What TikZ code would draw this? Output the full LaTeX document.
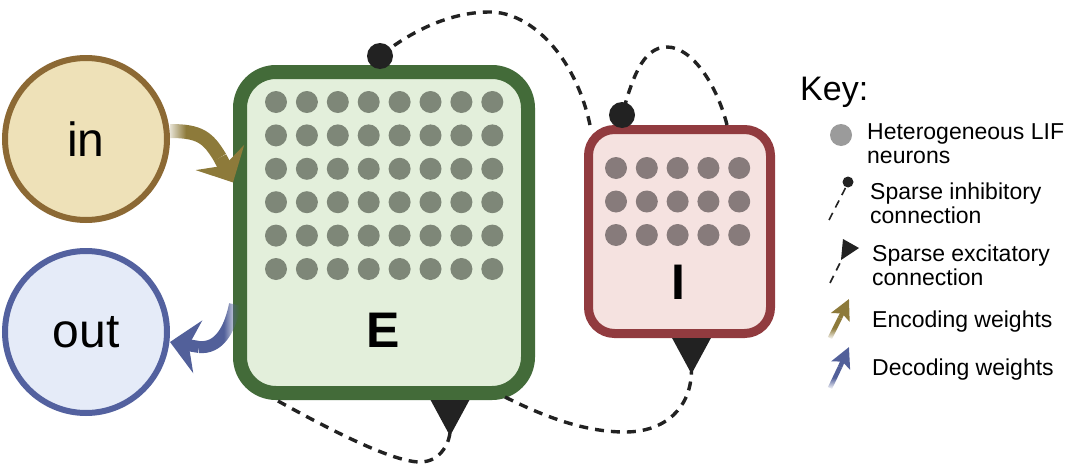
\documentclass[tikz,border=0pt]{standalone}
\usepackage{fontspec}
\setmainfont{Liberation Sans}
\usetikzlibrary{arrows.meta,fadings,positioning}
\definecolor{infill}{HTML}{EEE1B8}
\definecolor{inedge}{HTML}{8C6934}
\definecolor{outfill}{HTML}{E5EBF8}
\definecolor{outedge}{HTML}{53619F}
\definecolor{Efill}{HTML}{E3EFDB}
\definecolor{Eedge}{HTML}{436B39}
\definecolor{Edot}{HTML}{7E8778}
\definecolor{Ifill}{HTML}{F5E2E0}
\definecolor{Iedge}{HTML}{913B3F}
\definecolor{Idot}{HTML}{877B7B}
\definecolor{keydot}{HTML}{9B9B9B}
\definecolor{dark}{HTML}{222222}
\definecolor{enccol}{HTML}{8D7A3A}
\definecolor{deccol}{HTML}{52609A}
% quick fades: only the first part of a shaft is see-through
\pgfdeclarehorizontalshading{shR}{100bp}{color(0bp)=(pgftransparent!100); color(27bp)=(pgftransparent!100); color(43bp)=(pgftransparent!0); color(100bp)=(pgftransparent!0)}
\pgfdeclarehorizontalshading{shL}{100bp}{color(0bp)=(pgftransparent!0); color(57bp)=(pgftransparent!0); color(73bp)=(pgftransparent!100); color(100bp)=(pgftransparent!100)}
\pgfdeclareverticalshading{shU}{100bp}{color(0bp)=(pgftransparent!100); color(27bp)=(pgftransparent!100); color(50bp)=(pgftransparent!0); color(100bp)=(pgftransparent!0)}
\pgfdeclarefading{fadeR}{\pgfuseshading{shR}}
\pgfdeclarefading{fadeL}{\pgfuseshading{shL}}
\pgfdeclarefading{fadeU}{\pgfuseshading{shU}}
\begin{document}
\begin{tikzpicture}[x=1pt,y=-1pt,
    pop/.style={circle,inner sep=0pt,minimum size=162pt,line width=6pt,font=\fontsize{48}{48}\selectfont},
    grp/.style={rectangle,inner sep=0pt},
    lab/.style={inner sep=0pt,font=\fontsize{50}{50}\selectfont\bfseries},
    syn/.style={draw=dark,line width=3.4pt,dash pattern=on 9pt off 7pt},
    exc/.style={syn,-{Triangle[reversed,length=36pt,width=38pt]}},
    dotn/.style={circle,fill=dark,inner sep=0pt,minimum size=26pt},
    keytext/.style={anchor=base west,align=left,inner sep=0pt,font=\fontsize{23}{24}\selectfont},
    keysyn/.style={draw=dark,line width=1.6pt,dash pattern=on 8pt off 6pt}]
\useasboundingbox (0,0) rectangle (1072,474);
% populations
\node[pop,draw=inedge,fill=infill] (in) at (86,139) {in};
\node[pop,draw=outedge,fill=outfill] (out) at (86,332) {out};
\node[grp,draw=Eedge,fill=Efill,line width=14pt,minimum width=288pt,minimum height=321pt,rounded corners=36pt] (E) at (384,232.5) {};
\node[grp,draw=Iedge,fill=Ifill,line width=9pt,minimum width=182pt,minimum height=204pt,rounded corners=26pt] (I) at (679.5,231.5) {};
\foreach \i in {0,...,7}
  \foreach \j in {0,...,5}
    \fill[Edot] (276+30.9*\i,102+33.4*\j) circle (11pt);
\foreach \i in {0,...,4}
  \foreach \j in {0,...,2}
    \fill[Idot] (616+30.8*\i,168+33.5*\j) circle (11pt);
\node[lab] (Elab) at (383,330) {E};
\node[lab] (Ilab) at (678,282) {I};
% end points of the recurrent connections
\coordinate (ieS) at ([xshift=6pt]I.north west);
\coordinate (ieM) at (490,12);
\coordinate (inhE) at ([xshift=-4pt,yshift=9pt]E.north);
\coordinate (iiS) at ([xshift=-48pt]I.north east);
\coordinate (iiM) at (667,47);
\coordinate (inhI) at ([shift={(38pt,10pt)}]I.north west);
\coordinate (eeS) at ([xshift=45pt,yshift=-1pt]E.south west);
\coordinate (eeM) at ([shift={(36pt,-62pt)}]E.south);
\coordinate (eeT) at ([xshift=66pt]E.south);
\coordinate (eiS) at ([xshift=-30pt,yshift=3pt]E.south east);
\coordinate (eiM) at (625,432);
\coordinate (eiT) at ([xshift=12pt]I.south);
\draw[syn] (ieS) .. controls +(-15pt,70pt) and +(40pt,0pt) .. (ieM)
  .. controls +(-45pt,0pt) and +(25pt,20pt) .. (inhE);
\draw[syn] (iiS) .. controls +(-10pt,40pt) and +(25pt,0pt) .. (iiM)
  .. controls +(-25pt,0pt) and +(10pt,35pt) .. (inhI);
\node[dotn] (dE) at (inhE) {};
\node[dotn] (dI) at (inhI) {};
\draw[exc] (eeS) .. controls +(40pt,-22pt) and +(-30pt,0pt) .. (eeM)
  .. controls +(22pt,0pt) and +(0pt,-40pt) .. (eeT);
\draw[exc] (eiS) .. controls +(40pt,-20pt) and +(-40pt,0pt) .. (eiM)
  .. controls +(40pt,0pt) and +(0pt,-70pt) .. (eiT);
% encoding / decoding weights
\coordinate (encS) at ([yshift=8pt]in.east);
\coordinate (encT) at ([yshift=50pt]E.west);
\coordinate (encB) at ([shift={(-13pt,25pt)}]encT);
\draw[enccol,line width=14pt,path fading=fadeR] (encS) .. controls +(30pt,0pt) and +(-12pt,20pt) .. (encB);
\draw[enccol,line width=14pt,-{Stealth[length=28pt,width=54pt,inset=9pt]}] (encB) -- (encT);
\coordinate (decS) at ([shift={(2pt,-72pt)}]E.west);
\coordinate (decT) at ([yshift=-10pt]out.east);
\coordinate (decB) at ([shift={(29pt,-5pt)}]decT);
\draw[deccol,line width=12pt,path fading=fadeL] (decS) .. controls +(-5pt,-25pt) and +(20pt,-2pt) .. (decB);
\draw[deccol,line width=12pt,-{Stealth[length=28pt,width=53pt,inset=9pt]}] (decB) -- (decT);
% key
\node[anchor=base west,inner sep=0pt,font=\fontsize{34}{34}\selectfont] (key) at (800,100) {Key:};
\node[keytext] (kneu) at (867,163) {Heterogeneous LIF\\neurons};
\node[keytext] (kinh) at (870,223) {Sparse inhibitory\\connection};
\node[keytext] (kexc) at (872,285) {Sparse excitatory\\connection};
\node[keytext] (kenc) at (872,327) {Encoding weights};
\node[keytext] (kdec) at (872,375) {Decoding weights};
\fill[keydot] (841,135) circle (11pt);
\draw[keysyn] (829,220) -- (847,185);
\fill[dark] (848,182) circle (5.5pt);
\draw[keysyn] (830,283) -- (843,257);
\fill[dark] (843,239) -- (859,248) -- (841,260) -- cycle;
\draw[enccol,line width=4.5pt,path fading=fadeU] (830,338) -- (840,318);
\draw[enccol,line width=4.5pt,-{Stealth[length=20pt,width=20pt,inset=4pt]}] (840,318) -- (849,299);
\draw[deccol,line width=4.5pt,path fading=fadeU] (830,388) -- (840,367);
\draw[deccol,line width=4.5pt,-{Stealth[length=20pt,width=20pt,inset=4pt]}] (840,367) -- (849,347);
\end{tikzpicture}
\end{document}
